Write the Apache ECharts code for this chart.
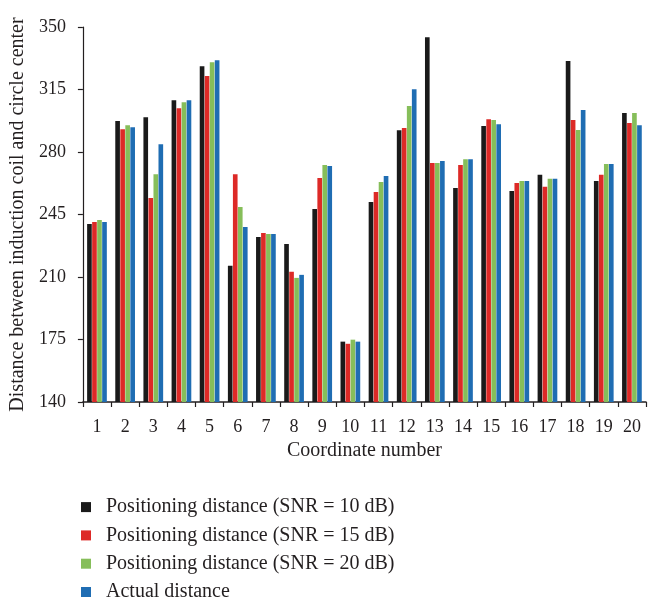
<!DOCTYPE html>
<html>
<head>
<meta charset="utf-8">
<script src="https://cdn.jsdelivr.net/npm/echarts@6/dist/echarts.min.js"></script>
<style>
  html, body { margin: 0; padding: 0; background: #fff; }
  #chart { width: 655px; height: 603px; }
</style>
</head>
<body>
<div id="chart"></div>
<script>
const coordinates = ['1', '2', '3', '4', '5', '6', '7', '8', '9', '10',
    '11', '12', '13', '14', '15', '16', '17', '18', '19', '20']

const snr10 = [239.7, 297.3, 299.5, 309.0, 328.0, 216.3, 232.4, 228.5, 248.1, 173.8,
    252.0, 292.2, 344.2, 259.9, 294.5, 258.2, 267.2, 330.9, 263.8, 301.8]
const snr15 = [240.8, 292.8, 254.2, 304.5, 322.5, 267.6, 234.6, 212.9, 265.4, 172.6,
    257.6, 293.4, 273.8, 272.7, 298.4, 262.7, 260.5, 297.9, 267.2, 296.2]
const snr20 = [241.9, 295.0, 267.6, 307.9, 330.3, 249.2, 234.1, 209.5, 272.7, 174.9,
    263.2, 305.7, 273.8, 276.0, 297.9, 263.8, 265.0, 292.3, 273.3, 301.8]
const actual = [240.8, 293.9, 284.4, 309.0, 331.4, 238.0, 234.1, 211.2, 272.1, 173.8,
    266.5, 315.2, 274.9, 276.0, 295.6, 263.8, 265.0, 303.5, 273.3, 295.0]

const seriesNames = [
    'Positioning distance (SNR = 10 dB)',
    'Positioning distance (SNR = 15 dB)',
    'Positioning distance (SNR = 20 dB)',
    'Actual distance'
]
const colors = ['#1a1a1a', '#dd2a27', '#86be5a', '#1f6db3']

const font = '"Liberation Serif", "DejaVu Serif", serif'
const textColor = '#231f20'

const chart = echarts.init(document.getElementById('chart'), null, { renderer: 'canvas' })

function makeSeries(name, data, i) {
    return {
        name: name,
        type: 'bar',
        data: data,
        barGap: '8%',
        barCategoryGap: '30%',
        itemStyle: { color: colors[i] },
        animation: false
    }
}

const options = {
    animation: false,
    grid: {
        left: 82,
        right: 9,
        top: 27,
        bottom: 201,
        containLabel: false
    },
    legend: {
        orient: 'vertical',
        left: 81,
        bottom: 1,
        padding: 0,
        itemWidth: 10,
        itemHeight: 10,
        itemGap: 8.3,
        icon: 'rect',
        textStyle: {
            fontFamily: font,
            fontSize: 20,
            color: textColor,
            lineHeight: 20,
            padding: [0, 0, 0, 10]
        },
        data: seriesNames
    },
    xAxis: {
        type: 'category',
        data: coordinates,
        name: 'Coordinate number',
        nameLocation: 'middle',
        nameGap: 36,
        nameTextStyle: { fontFamily: font, fontSize: 20, color: textColor },
        axisLine: { lineStyle: { color: '#231f20', width: 1.5 } },
        axisTick: { show: true, length: 5, lineStyle: { color: '#231f20', width: 1.2 } },
        axisLabel: { fontFamily: font, fontSize: 18, color: textColor, margin: 16 },
        splitLine: { show: false }
    },
    yAxis: {
        type: 'value',
        min: 140,
        max: 350,
        interval: 35,
        name: 'Distance between induction coil and circle center',
        nameLocation: 'middle',
        nameGap: 50,
        nameTextStyle: { fontFamily: font, fontSize: 20, color: textColor },
        axisLine: { show: true, lineStyle: { color: '#231f20', width: 1.2 } },
        axisTick: { show: true, length: 5, lineStyle: { color: '#231f20', width: 1.2 } },
        axisLabel: { fontFamily: font, fontSize: 18, color: textColor, margin: 17 },
        splitLine: { show: false }
    },
    series: [
        makeSeries(seriesNames[0], snr10, 0),
        makeSeries(seriesNames[1], snr15, 1),
        makeSeries(seriesNames[2], snr20, 2),
        makeSeries(seriesNames[3], actual, 3)
    ]
}

chart.setOption(options)
</script>
</body>
</html>
